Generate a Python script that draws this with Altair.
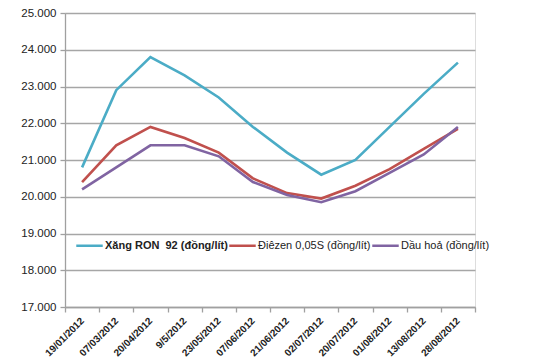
import altair as alt
import pandas as pd

dates = ["19/01/2012", "07/03/2012", "20/04/2012", "9/5/2012", "23/05/2012", "07/06/2012",
         "21/06/2012", "02/07/2012", "20/07/2012", "01/08/2012", "13/08/2012", "28/08/2012"]
series_names = ["Xăng RON\u00a0 92 (đồng/lít)", "Điêzen 0,05S (đồng/lít)", "Dầu hoả (đồng/lít)"]
xang = [20800, 22900, 23800, 23300, 22700, 21900, 21200, 20600, 21000, 21900, 22800, 23650]
dieselv = [20400, 21400, 21900, 21600, 21200, 20500, 20100, 19950, 20300, 20750, 21300, 21850]
dauhoa = [20200, 20800, 21400, 21400, 21100, 20400, 20050, 19850, 20150, 20650, 21150, 21900]
colors = ["#4BACC6", "#C0504D", "#8064A2"]

rows = []
for name, vals in zip(series_names, [xang, dieselv, dauhoa]):
    for d, v in zip(dates, vals):
        rows.append({"date": d, "series": name, "value": v})
df = pd.DataFrame(rows)

chart = alt.Chart(df).mark_line(strokeWidth=2.6).encode(
    x=alt.X("date:N", sort=dates, bandPosition=0.5,
            scale=alt.Scale(type="band", paddingInner=0, paddingOuter=0),
            axis=alt.Axis(title=None, labelAngle=-45, labelAlign="right", labelBaseline="middle",
                          labelFontSize=10, labelFontWeight="bold", labelFont="Arial",
                          labelColor="#222222", labelPadding=7, tickBand="extent", tickSize=5,
                          tickColor="#A0A0A0", domainColor="#A0A0A0", domainWidth=1.3,
                          tickWidth=1.3, grid=False)),
    y=alt.Y("value:Q", scale=alt.Scale(domain=[17000, 25000], nice=False, zero=False),
            axis=alt.Axis(title=None, values=[17000, 18000, 19000, 20000, 21000, 22000, 23000, 24000, 25000],
                          labelExpr="replace(format(datum.value, ','), ',', '.')",
                          labelFontSize=11.5, labelFont="Arial", labelColor="#222222",
                          labelPadding=4, tickSize=5, tickColor="#A0A0A0", tickWidth=1.3,
                          domainColor="#A0A0A0", domainWidth=1.3,
                          gridColor="#A6A6A6", gridWidth=1.4)),
    color=alt.Color("series:N", sort=series_names,
                    scale=alt.Scale(domain=series_names, range=colors),
                    legend=alt.Legend(title=None, orient="none", legendX=10, legendY=218,
                                      direction="horizontal", symbolType="stroke",
                                      symbolSize=700, symbolStrokeWidth=2.5,
                                      labelFontSize=11, labelFont="Arial",
                                      labelColor="#222222", labelOffset=1, columnPadding=-7,
                                      labelLimit=300,
                                      labelFontWeight=alt.ExprRef(expr="datum.index == 0 ? 'bold' : 'normal'"))),
).properties(
    width=410, height=294,
    autosize=alt.AutoSizeParams(type="none"),
    padding={"left": 57, "top": 5, "right": 67, "bottom": 57},
).configure_view(stroke=None).configure(background="white")

chart.save("out.html", embed_options={"renderer": "svg", "actions": False})
